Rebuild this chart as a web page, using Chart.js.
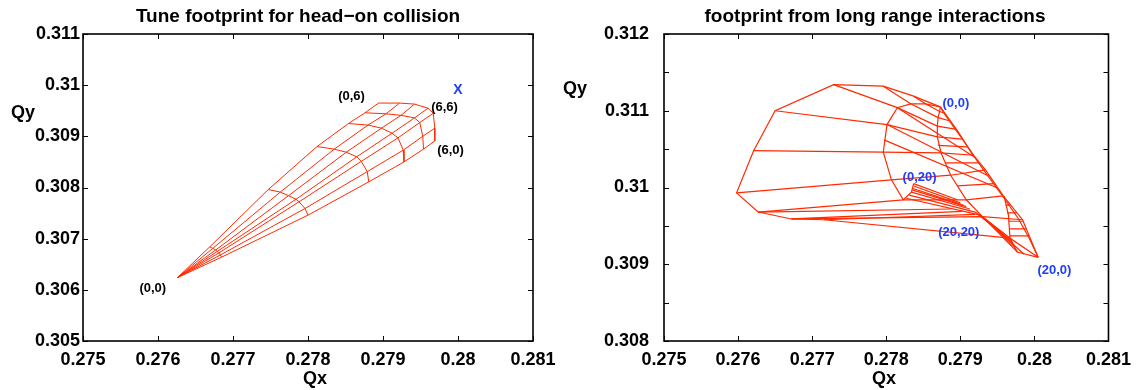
<!DOCTYPE html>
<html>
<head>
<meta charset="utf-8">
<script src="https://cdn.jsdelivr.net/npm/chart.js@4.4.1/dist/chart.umd.min.js"></script>
<style>
  body { margin: 0; background: #fff; width: 1139px; height: 390px; position: relative; overflow: hidden; }
  canvas { position: absolute; top: 0; }
  #left { left: 0; }
  #right { left: 560px; }
</style>
</head>
<body>
<canvas id="left" width="570" height="390"></canvas>
<canvas id="right" width="579" height="390"></canvas>
<script>
const MESH = '#ff2a00';
const BLUE = '#1f3dff';
const FONT = "'Liberation Sans', Arial, Helvetica, sans-serif";

// ---- head-on footprint: tip (0,0) plus 6 amplitude arcs, 7 angles each
const tipQx = 0.27626;
const tipQy = 0.30624;
const headOnQx = [
    [0.27669, 0.27673, 0.27677, 0.27679, 0.27681, 0.27683, 0.27685],
    [0.27747, 0.27763, 0.27774, 0.27784, 0.27788, 0.27796, 0.27800],
    [0.27812, 0.27835, 0.27851, 0.27865, 0.27871, 0.27879, 0.27881],
    [0.27854, 0.27880, 0.27898, 0.27912, 0.27920, 0.27927, 0.27928],
    [0.27876, 0.27904, 0.27924, 0.27942, 0.27949, 0.27953, 0.27954],
    [0.27894, 0.27922, 0.27942, 0.27960, 0.27967, 0.27969, 0.27969]
];
const headOnQy = [
    [0.30684, 0.30681, 0.30678, 0.30675, 0.30672, 0.30668, 0.30664],
    [0.30796, 0.30791, 0.30784, 0.30777, 0.30772, 0.30759, 0.30746],
    [0.30880, 0.30875, 0.30869, 0.30860, 0.30851, 0.30831, 0.30811],
    [0.30925, 0.30922, 0.30916, 0.30906, 0.30897, 0.30873, 0.30850],
    [0.30946, 0.30944, 0.30941, 0.30936, 0.30927, 0.30900, 0.30875],
    [0.30965, 0.30965, 0.30963, 0.30955, 0.30945, 0.30916, 0.30891]
];
const headOnLabels = ['(0,0)', '(0,6)', '(6,6)', '(6,0)'];
const headOnLabelQx = [0.27593, 0.27858, 0.27982, 0.27990];
const headOnLabelQy = [0.30603, 0.30978, 0.30957, 0.30872];
const nominalQx = 0.28000;
const nominalQy = 0.30991;

// ---- long range footprint: rings and spokes
const outerQx = [0.27873, 0.27837, 0.27796, 0.27729, 0.27650, 0.27621, 0.27598, 0.27627, 0.27672, 0.27716];
const outerQy = [0.31105, 0.31119, 0.31132, 0.31134, 0.31100, 0.31048, 0.30993, 0.30968, 0.30959, 0.30958];
const innerQx = [0.27873, 0.27853, 0.27833, 0.27815, 0.27801, 0.27796, 0.27807, 0.27823, 0.27834, 0.27837];
const innerQy = [0.31105, 0.31109, 0.31109, 0.31104, 0.31082, 0.31046, 0.31010, 0.30984, 0.30994, 0.31005];
const midQx = [0.27873, 0.27872, 0.27870, 0.27869, 0.27869, 0.27874, 0.27887, 0.27908, 0.27930, 0.27967];
const midQy = [0.31105, 0.31099, 0.31091, 0.31080, 0.31066, 0.31045, 0.31016, 0.30984, 0.30962, 0.30934];
const edgeQx = [0.27873, 0.27878, 0.27885, 0.27893, 0.27903, 0.27918, 0.27934, 0.27958, 0.27984, 0.28005];
const edgeQy = [0.31105, 0.31097, 0.31087, 0.31076, 0.31063, 0.31042, 0.31023, 0.30989, 0.30958, 0.30909];
const edge2Qx = [0.27873, 0.27896, 0.27913, 0.27935, 0.27954, 0.27978, 0.27993, 0.28005];
const edge2Qy = [0.31105, 0.31074, 0.31048, 0.31018, 0.30993, 0.30960, 0.30934, 0.30909];

const rungFromQx = [0.27870, 0.27880, 0.27896];
const rungFromQy = [0.31055, 0.31032, 0.31002];
const rungToQx = [0.27909, 0.27926, 0.27946];
const rungToQy = [0.31053, 0.31032, 0.31005];

const diagFromQx = [0.27815, 0.27801, 0.27797];
const diagFromQy = [0.31104, 0.31082, 0.31062];
const diagToQx = [0.27920, 0.27938, 0.27951];
const diagToQy = [0.31039, 0.31015, 0.30999];

const fanFromQx = [0.27837, 0.27837, 0.27835, 0.27835, 0.27834, 0.27831, 0.27827];
const fanFromQy = [0.31005, 0.31002, 0.30999, 0.30997, 0.30994, 0.30990, 0.30986];
const fanToQx = [0.27896, 0.27900, 0.27904, 0.27908, 0.27913, 0.27920, 0.27927];
const fanToQy = [0.30984, 0.30980, 0.30977, 0.30975, 0.30972, 0.30968, 0.30964];

const bundleFromQx = [0.27920, 0.27924, 0.27927, 0.27930, 0.27934];
const bundleFromQy = [0.30968, 0.30965, 0.30964, 0.30962, 0.30959];
const bundleToQx = [0.27967, 0.27970, 0.27974, 0.27977, 0.27986];
const bundleToQy = [0.30934, 0.30929, 0.30922, 0.30916, 0.30913];

const floorFromQx = [0.27627, 0.27672, 0.27716];
const floorFromQy = [0.30968, 0.30959, 0.30958];
const floorToQx = [0.27887, 0.27903, 0.27920];
const floorToQy = [0.30972, 0.30969, 0.30965];

const tailQx = [0.27959, 0.27965, 0.27967];
const tailQy = [0.30989, 0.30964, 0.30934];
const wedgeQx = [0.27967, 0.27977, 0.28005];
const wedgeQy = [0.30934, 0.30916, 0.30909];
const ladderFromQx = [0.27961, 0.27963, 0.27965, 0.27966, 0.27967];
const ladderToQx = [0.27967, 0.27976, 0.27985, 0.27989, 0.27993];
const ladderQy = [0.30977, 0.30967, 0.30956, 0.30946, 0.30937];

const longRangeLabels = ['(0,0)', '(0,20)', '(20,20)', '(20,0)'];
const longRangeLabelQx = [0.27894, 0.27845, 0.27898, 0.28027];
const longRangeLabelQy = [0.31110, 0.31013, 0.30942, 0.30892];
const longRangeMinorQy = [0.3085, 0.3095, 0.3105, 0.3115];

// ---- helpers
function pts(qx, qy) { return qx.map((x, i) => ({ x: x, y: qy[i] })); }

function headOnLines() {
    const lines = [];
    // arcs of constant amplitude
    headOnQx.forEach((row, r) => lines.push(pts(row, headOnQy[r])));
    // rays from the (0,0) tip
    for (let j = 0; j < headOnQx[0].length; j++) {
        const l = [{ x: tipQx, y: tipQy }];
        headOnQx.forEach((row, r) => l.push({ x: row[j], y: headOnQy[r][j] }));
        lines.push(l);
    }
    return lines;
}

function pairs(fx, fy, tx, ty) {
    return fx.map((x, i) => [{ x: x, y: fy[i] }, { x: tx[i], y: ty[i] }]);
}

function longRangeLines() {
    const lines = [pts(outerQx, outerQy), pts(innerQx, innerQy), pts(midQx, midQy),
                   pts(edgeQx, edgeQy), pts(edge2Qx, edge2Qy), pts(tailQx, tailQy), pts(wedgeQx, wedgeQy)];
    for (let s = 1; s < outerQx.length; s++) {
        const l = [{ x: outerQx[s], y: outerQy[s] }];
        if (s < 8) l.push({ x: innerQx[s], y: innerQy[s] });
        l.push({ x: midQx[s], y: midQy[s] });
        l.push({ x: edgeQx[s], y: edgeQy[s] });
        lines.push(l);
    }
    lines.push(...pairs(rungFromQx, rungFromQy, rungToQx, rungToQy));
    lines.push(...pairs(diagFromQx, diagFromQy, diagToQx, diagToQy));
    lines.push(...pairs(fanFromQx, fanFromQy, fanToQx, fanToQy));
    lines.push(...pairs(bundleFromQx, bundleFromQy, bundleToQx, bundleToQy));
    lines.push(...pairs(floorFromQx, floorFromQy, floorToQx, floorToQy));
    lines.push(...pairs(ladderFromQx, ladderQy, ladderToQx, ladderQy));
    return lines;
}

function fmt(v) { return String(parseFloat(Number(v).toFixed(4))); }

function framePlugin(o) {
    return {
        id: 'frame',
        afterDatasetsDraw(chart) {
            const ctx = chart.ctx, a = chart.chartArea, xs = chart.scales.x, ys = chart.scales.y;
            ctx.save();
            ctx.strokeStyle = '#000';
            ctx.lineWidth = 1;
            const t = 5;
            ctx.beginPath();
            xs.ticks.forEach(tk => {
                const px = Math.round(xs.getPixelForValue(tk.value)) + 0.5;
                ctx.moveTo(px, a.bottom); ctx.lineTo(px, a.bottom - t);
                ctx.moveTo(px, a.top); ctx.lineTo(px, a.top + t);
            });
            ys.ticks.map(tk => tk.value).concat(o.minorY || []).forEach(v => {
                const py = Math.round(ys.getPixelForValue(v)) + 0.5;
                ctx.moveTo(a.left, py); ctx.lineTo(a.left + t, py);
                ctx.moveTo(a.right, py); ctx.lineTo(a.right - t, py);
            });
            ctx.stroke();
            ctx.lineWidth = 1.6;
            ctx.strokeRect(a.left, a.top, a.right - a.left, a.bottom - a.top);

            ctx.textAlign = 'center';
            ctx.textBaseline = 'middle';
            ctx.fillStyle = '#000';
            ctx.font = 'bold 19px ' + FONT;
            ctx.fillText(o.title, o.titleX, 17);
            ctx.font = 'bold 18px ' + FONT;
            ctx.fillText('Qx', o.qxX, 379);
            ctx.fillText('Qy', o.qyX, o.qyY);

            ctx.font = 'bold 13px ' + FONT;
            ctx.fillStyle = o.labelColor;
            o.labels.forEach((txt, i) => {
                ctx.fillText(txt, xs.getPixelForValue(o.labelQx[i]), ys.getPixelForValue(o.labelQy[i]));
            });
            if (o.mark) {
                ctx.fillStyle = BLUE;
                ctx.font = 'bold 14px ' + FONT;
                ctx.fillText('X', xs.getPixelForValue(o.mark.x), ys.getPixelForValue(o.mark.y));
            }
            ctx.restore();
        }
    };
}

function makeChart(id, lines, cfg) {
    const tickFont = { family: FONT, size: 18, weight: 'bold' };
    return new Chart(document.getElementById(id), {
        type: 'scatter',
        data: {
            datasets: lines.map(l => ({
                data: l,
                showLine: true,
                borderColor: MESH,
                borderWidth: cfg.lineWidth,
                pointRadius: 0,
                fill: false,
                tension: 0
            }))
        },
        options: {
            responsive: false,
            animation: false,
            events: [],
            layout: { padding: { left: 0, top: 34, right: cfg.padRight, bottom: 0 } },
            plugins: { legend: { display: false }, tooltip: { enabled: false } },
            scales: {
                x: {
                    type: 'linear', min: 0.275, max: 0.281,
                    afterFit: s => { s.height = 49; },
                    grid: { display: false, drawTicks: false },
                    border: { display: false },
                    ticks: { stepSize: 0.001, padding: 8, color: '#000', font: tickFont,
                             maxRotation: 0, autoSkip: false, callback: v => fmt(v) }
                },
                y: {
                    type: 'linear', min: cfg.yMin, max: cfg.yMax,
                    afterFit: s => { s.width = cfg.yWidth; },
                    grid: { display: false, drawTicks: false },
                    border: { display: false },
                    ticks: { stepSize: 0.001, padding: cfg.yPad, color: '#000', font: tickFont,
                             autoSkip: false, callback: v => fmt(v) }
                }
            }
        },
        plugins: [framePlugin(cfg.frame)]
    });
}

makeChart('left', headOnLines(), {
    yMin: 0.305, yMax: 0.311, yWidth: 83, yPad: 3, padRight: 37, lineWidth: 1,
    frame: {
        title: 'Tune footprint for head\u2212on collision', titleX: 298,
        qxX: 315, qyX: 23, qyY: 113,
        labels: headOnLabels, labelQx: headOnLabelQx, labelQy: headOnLabelQy,
        labelColor: '#000', mark: { x: nominalQx, y: nominalQy }
    }
});

makeChart('right', longRangeLines(), {
    yMin: 0.308, yMax: 0.312, yWidth: 104, yPad: 15, padRight: 30, lineWidth: 1.2,
    frame: {
        title: 'footprint from long range interactions', titleX: 315,
        qxX: 324, qyX: 15, qyY: 89,
        labels: longRangeLabels, labelQx: longRangeLabelQx, labelQy: longRangeLabelQy,
        labelColor: BLUE, minorY: longRangeMinorQy
    }
});
</script>
</body>
</html>
